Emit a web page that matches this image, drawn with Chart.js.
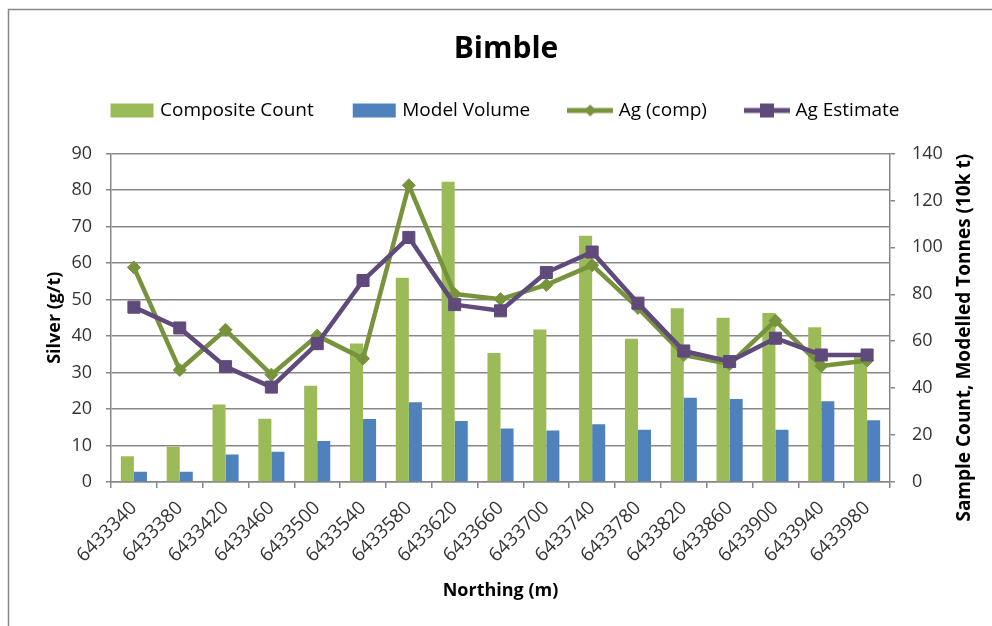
<!DOCTYPE html>
<html>
<head>
<meta charset="utf-8">
<title>Bimble</title>
<script src="https://cdn.jsdelivr.net/npm/chart.js@4.4.1/dist/chart.umd.min.js"></script>
<style>
  html, body { margin: 0; padding: 0; background: #fff; }
  #wrap { width: 992px; height: 626px; position: relative; }
</style>
</head>
<body>
<div id="wrap"><canvas id="bimble"></canvas></div>
<script>
// section northings along the x axis
const northings = ['6433340', '6433380', '6433420', '6433460', '6433500', '6433540', '6433580', '6433620', '6433660',
  '6433700', '6433740', '6433780', '6433820', '6433860', '6433900', '6433940', '6433980'];

// right axis: composite count and modelled tonnes (10k t)
const compositeCount = [11, 15, 33, 27, 41, 59, 87, 128, 55, 65, 105, 61, 74, 70, 72, 66, 55];
const modelVolume = [4.4, 4.4, 11.7, 12.9, 17.5, 26.9, 34, 26, 22.8, 21.9, 24.6, 22.3, 35.9, 35.4, 22.3, 34.4, 26.3];

// left axis: silver grades in g/t
const agComp = [58.8, 30.7, 41.7, 29.4, 40.1, 33.8, 81.3, 51.5, 50.1, 54, 59.4, 47.7, 34.8, 32.3, 44.2, 31.8, 33.3];
const agEstimate = [47.9, 42.2, 31.6, 26, 37.9, 55.2, 67, 48.6, 46.9, 57.4, 63, 49, 35.9, 33, 39.4, 34.8, 34.8];

const silverRange = [0, 90, 10];
const countRange = [0, 140, 20];

const GREEN = '#9BBB59';
const BLUE = '#4F81BD';
const OLIVE = '#77933C';
const PURPLE = '#604A7B';
const GRID = '#878787';
const TEXT = '#333333';
const FONT = "'Open Sans', sans-serif";

Chart.defaults.font.family = FONT;
Chart.defaults.color = TEXT;

// little canvases used as legend swatches
function swatch(kind, color, marker) {
  const c = document.createElement('canvas');
  c.width = 46;
  c.height = 16;
  const g = c.getContext('2d');
  if (kind === 'bar') {
    g.fillStyle = color;
    g.fillRect(2, 1, 43, 14);
    return c;
  }
  g.strokeStyle = color;
  g.fillStyle = color;
  g.lineWidth = 5;
  g.beginPath();
  g.moveTo(0, 8);
  g.lineTo(46, 8);
  g.stroke();
  g.beginPath();
  if (marker === 'diamond') {
    g.moveTo(23, 2); g.lineTo(29, 8); g.lineTo(23, 14); g.lineTo(17, 8);
  } else {
    g.rect(16, 1, 14, 14);
  }
  g.closePath();
  g.fill();
  return c;
}

const swatches = [
  swatch('bar', GREEN),
  swatch('bar', BLUE),
  swatch('line', OLIVE, 'diamond'),
  swatch('line', PURPLE, 'square')
];

// outer frame plus the right axis title (reads bottom to top)
const chartFrame = {
  id: 'chartFrame',
  afterDraw(chart) {
    const { ctx } = chart;
    ctx.save();
    ctx.strokeStyle = GRID;
    ctx.lineWidth = 1.5;
    ctx.beginPath();
    ctx.moveTo(8.5, 626);
    ctx.lineTo(8.5, 9.5);
    ctx.lineTo(992, 9.5);
    ctx.stroke();

    const right = chart.scales.y1;
    ctx.translate(965, (right.top + right.bottom) / 2 + 20);
    ctx.rotate(-Math.PI / 2);
    ctx.font = 'bold 19px ' + FONT;
    ctx.fillStyle = '#000';
    ctx.textAlign = 'center';
    ctx.textBaseline = 'middle';
    ctx.fillText('Sample Count, Modelled Tonnes (10k t)', 0, 0);
    ctx.restore();
  }
};

new Chart(document.getElementById('bimble'), {
  type: 'bar',
  data: {
    labels: northings,
    datasets: [
      {
        label: 'Composite Count',
        data: compositeCount,
        backgroundColor: GREEN,
        yAxisID: 'y1',
        order: 3
      },
      {
        label: 'Model Volume',
        data: modelVolume,
        backgroundColor: BLUE,
        yAxisID: 'y1',
        order: 3
      },
      {
        type: 'line',
        label: 'Ag (comp)',
        data: agComp,
        borderColor: OLIVE,
        backgroundColor: OLIVE,
        borderWidth: 4.5,
        borderJoinStyle: 'round',
        pointStyle: 'rectRot',
        pointRadius: 6.5,
        pointBorderWidth: 1,
        yAxisID: 'y',
        order: 2
      },
      {
        type: 'line',
        label: 'Ag Estimate',
        data: agEstimate,
        borderColor: PURPLE,
        backgroundColor: PURPLE,
        borderWidth: 4.5,
        borderJoinStyle: 'round',
        pointStyle: 'rect',
        pointRadius: 8.5,
        pointBorderWidth: 1,
        yAxisID: 'y',
        order: 1
      }
    ]
  },
  options: {
    responsive: true,
    maintainAspectRatio: false,
    animation: false,
    layout: {
      padding: { top: 0, right: 0, bottom: 0, left: 20 }
    },
    datasets: {
      bar: {
        categoryPercentage: 0.57,
        barPercentage: 1
      }
    },
    plugins: {
      title: {
        display: true,
        text: 'Bimble',
        color: '#000',
        font: { size: 30, weight: 'bold' },
        padding: { top: 31, bottom: -7 }
      },
      subtitle: {
        display: true,
        text: '',
        weight: 500,
        font: { size: 10 },
        padding: { top: 0, bottom: 11.5 }
      },
      legend: {
        position: 'top',
        labels: {
          usePointStyle: true,
          pointStyleWidth: 38,
          padding: 41,
          color: '#000',
          font: { size: 19 },
          generateLabels(chart) {
            return chart.data.datasets.map((ds, i) => ({
              text: ds.label,
              datasetIndex: i,
              pointStyle: swatches[i],
              fillStyle: ds.backgroundColor,
              strokeStyle: ds.backgroundColor,
              lineWidth: 0,
              hidden: false,
              fontColor: '#000'
            }));
          }
        }
      },
      tooltip: { enabled: false }
    },
    scales: {
      x: {
        offset: true,
        grid: {
          offset: true,
          drawOnChartArea: false,
          drawTicks: true,
          tickLength: 6,
          color: GRID,
          lineWidth: 1.5
        },
        border: { color: GRID, width: 1.5 },
        ticks: {
          autoSkip: false,
          minRotation: 45,
          maxRotation: 45,
          padding: 9,
          color: TEXT,
          font: { size: 19 }
        },
        title: {
          display: true,
          text: 'Northing (m)',
          color: '#000',
          font: { size: 18, weight: 'bold' },
          padding: { top: 0, bottom: 24 }
        },
        afterFit(scale) {
          scale.height = 144;
        }
      },
      y: {
        position: 'left',
        min: silverRange[0],
        max: silverRange[1],
        grid: {
          color: GRID,
          lineWidth: 1.5,
          tickLength: 5
        },
        border: { color: GRID, width: 1.5 },
        ticks: {
          stepSize: silverRange[2],
          padding: 14,
          color: TEXT,
          font: { size: 18 }
        },
        title: {
          display: true,
          text: 'Silver (g/t)',
          color: '#000',
          font: { size: 18, weight: 'bold' },
          padding: { top: 24, bottom: 0 }
        },
        afterFit(scale) {
          scale.width = 91;
        }
      },
      y1: {
        position: 'right',
        min: countRange[0],
        max: countRange[1],
        grid: {
          drawOnChartArea: false,
          color: GRID,
          lineWidth: 1.5,
          tickLength: 5
        },
        border: { color: GRID, width: 1.5 },
        ticks: {
          stepSize: countRange[2],
          padding: 17,
          color: TEXT,
          font: { size: 18 }
        },
        afterFit(scale) {
          scale.width = 102;
        }
      }
    }
  },
  plugins: [chartFrame]
});
</script>
</body>
</html>
